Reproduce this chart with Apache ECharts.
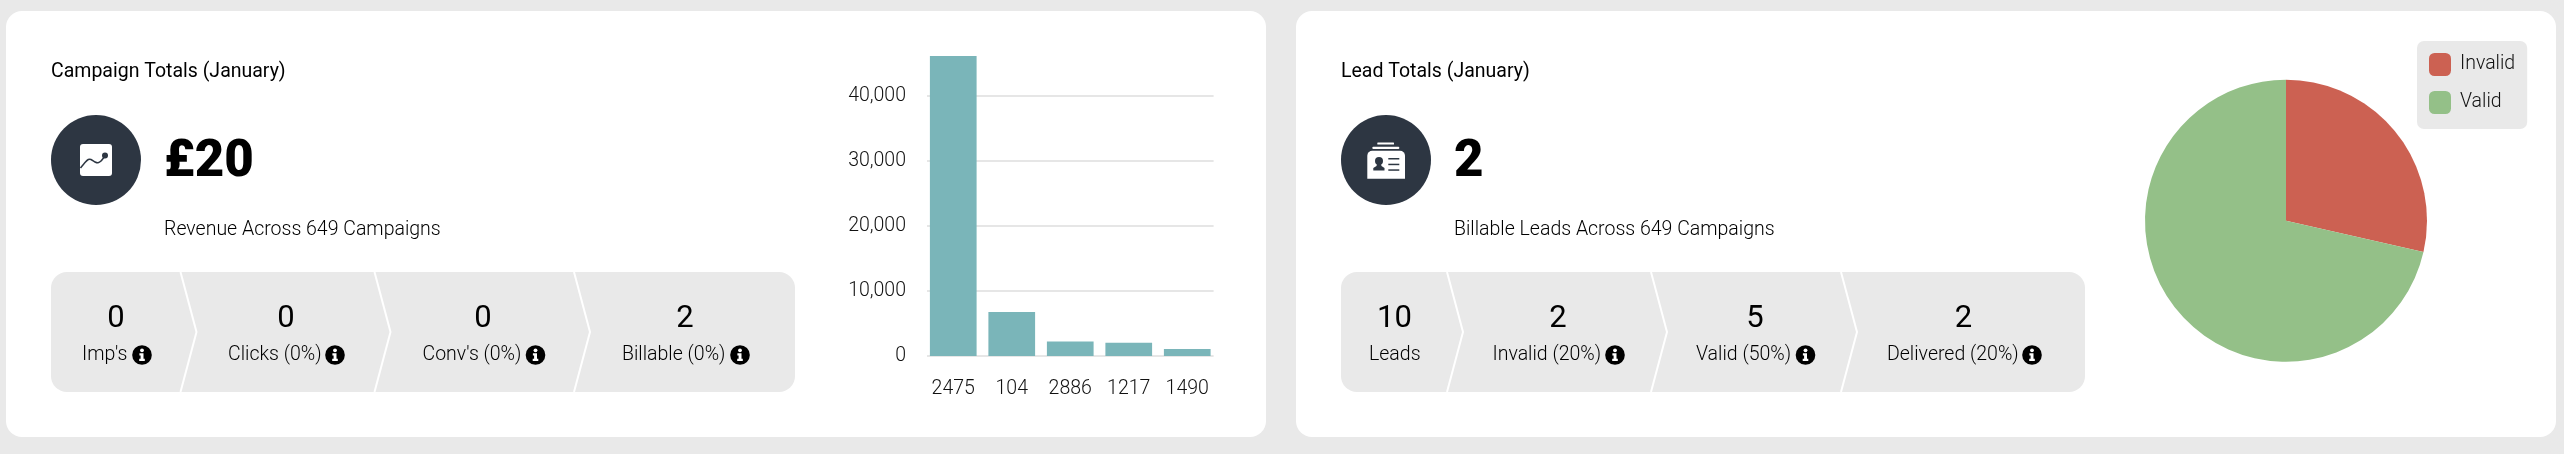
<!DOCTYPE html>
<html>
<head>
<meta charset="utf-8">
<title>Campaign and lead totals</title>
<style>
  html, body { margin: 0; padding: 0; background: #e9e9e9; }
  #dash { width: 2564px; height: 454px; }
</style>
<script src="https://cdn.jsdelivr.net/npm/echarts@6/dist/echarts.min.js"></script>
</head>
<body>
<div id="dash"></div>
<script>
// Data
const campaignIds = ['2475', '104', '2886', '1217', '1490'];
const campaignLeads = [46150, 6770, 2250, 2030, 1080];
const yTickStep = 10000;
const yAxisMax = 50000;

const pieNames = ['Invalid', 'Valid'];
const pieValues = [2, 5];

const campaignTitle = 'Campaign Totals (January)';
const campaignHeadline = '£20';
const campaignSubtitle = 'Revenue Across 649 Campaigns';
const campaignStepValues = ['0', '0', '0', '2'];
const campaignStepLabels = ["Imp's", 'Clicks (0%)', "Conv's (0%)", 'Billable (0%)'];

const leadTitle = 'Lead Totals (January)';
const leadHeadline = '2';
const leadSubtitle = 'Billable Leads Across 649 Campaigns';
const leadStepValues = ['10', '2', '5', '2'];
const leadStepLabels = ['Leads', 'Invalid (20%)', 'Valid (50%)', 'Delivered (20%)'];

// Layout of the two panels
const campaignPanel = {
  cardX: 6, cardW: 1260, textX: 51, headX: 164, stripX: 51, stripW: 744,
  dividers: [180.5, 374.5, 574],
  valueX: [116, 286, 483, 685],
  labelX: [82, 228, 422.5, 622],
  infoX: [142, 335, 535.5, 740]
};
const leadPanel = {
  cardX: 1296, cardW: 1260, textX: 1341, headX: 1454, stripX: 1341, stripW: 744,
  dividers: [1447, 1651, 1841],
  valueX: [1394.5, 1558, 1755, 1963.5],
  labelX: [1369, 1492.5, 1696, 1887],
  infoX: [null, 1615, 1805.5, 2032]
};

// Palette and fonts
const INK = '#111111';
const DARK = '#2d3642';
const PANEL_GREY = '#e9e9e9';
const FACE = 'Roboto, sans-serif';

// All panel furniture stays below the axes, which draw at z 0
const Z_CARD = -9, Z_SHAPE = -8, Z_ICON = -7, Z_ICON_DETAIL = -6, Z_TEXT = -5;

function label(x, y, text, font, align) {
  return { type: 'text', z: Z_TEXT, style: {
    x, y, text, font: font + ' ' + FACE, fill: '#000', align: align || 'left', verticalAlign: 'middle'
  } };
}

function roundRect(x, y, width, height, r, fill, z) {
  return { type: 'rect', z, shape: { x, y, width, height, r }, style: { fill } };
}

// Round info badge with a white serifed "i"
function infoBadge(cx, cy) {
  return {
    type: 'group', children: [
      { type: 'circle', z: Z_ICON, shape: { cx, cy, r: 9.8 }, style: { fill: '#000' } },
      { type: 'circle', z: Z_ICON_DETAIL, shape: { cx, cy: cy - 4.7, r: 1.9 }, style: { fill: '#fff' } },
      { type: 'polygon', z: Z_ICON_DETAIL, shape: { points: [
        [cx - 2.6, cy - 1.7], [cx + 1.5, cy - 1.7], [cx + 1.5, cy + 3.8], [cx + 2.8, cy + 3.8],
        [cx + 2.8, cy + 6], [cx - 2.8, cy + 6], [cx - 2.8, cy + 3.8], [cx - 1.4, cy + 3.8],
        [cx - 1.4, cy + 0.4], [cx - 2.6, cy + 0.4]
      ] }, style: { fill: '#fff' } }
    ]
  };
}

function trendIcon() {
  return [
    roundRect(80, 144, 32, 32, 3, '#fff', Z_ICON),
    { type: 'polyline', z: Z_ICON_DETAIL, shape: {
        points: [[80.5, 168], [85, 162.5], [88.3, 159.5], [91, 159.5], [95, 162], [98, 162.8], [101, 161], [105, 156]],
        smooth: 0.2
      }, style: { stroke: DARK, lineWidth: 1.5, fill: 'none' } },
    { type: 'circle', z: Z_ICON_DETAIL, shape: { cx: 105, cy: 155.5, r: 3 }, style: { fill: DARK } }
  ];
}

function contactIcon() {
  const dark = (x, y, w, h) => ({ type: 'rect', z: Z_ICON_DETAIL, shape: { x, y, width: w, height: h }, style: { fill: DARK } });
  return [
    roundRect(1377.3, 142.5, 16.7, 2, 0.5, '#fff', Z_ICON),
    roundRect(1372.3, 146.7, 27, 2.4, 1, '#fff', Z_ICON),
    { type: 'rect', z: Z_ICON, shape: { x: 1367.3, y: 150.7, width: 37.7, height: 28, r: [5, 5, 0, 0] }, style: { fill: '#fff' } },
    { type: 'circle', z: Z_ICON_DETAIL, shape: { cx: 1379, cy: 161, r: 4 }, style: { fill: DARK } },
    { type: 'polygon', z: Z_ICON_DETAIL, shape: { points: [[1377, 164], [1381, 164], [1381.5, 166], [1384.5, 168], [1384.5, 170.5], [1373.3, 170.5], [1373.3, 168], [1376.5, 166]] }, style: { fill: DARK } },
    dark(1388.3, 158, 11, 1.5),
    dark(1388.3, 163.7, 11, 1.5),
    dark(1388.3, 169.3, 11, 1.5)
  ];
}

function panelGraphics(p, title, headline, subtitle, values, labels, icon) {
  const stripTop = 272, stripBottom = 392, tipY = 332, tip = 16;
  const items = [
    roundRect(p.cardX, 11, p.cardW, 426, 16, '#fff', Z_CARD),
    label(p.textX, 72, title, '400 19.5px'),
    { type: 'circle', z: Z_SHAPE, shape: { cx: p.textX + 45, cy: 160, r: 45 }, style: { fill: DARK } },
    label(p.headX, 163, headline, '900 51px'),
    label(p.headX, 230, subtitle, '300 19.5px'),
    roundRect(p.stripX, stripTop, p.stripW, stripBottom - stripTop, 16, PANEL_GREY, Z_SHAPE)
  ];
  p.dividers.forEach((x) => items.push({
    type: 'polyline', z: Z_ICON,
    shape: { points: [[x, stripTop], [x + tip, tipY], [x, stripBottom]] },
    style: { stroke: '#fff', lineWidth: 2, fill: 'none' }
  }));
  values.forEach((v, i) => {
    items.push(label(p.valueX[i], 319.5, v, '400 31px', 'center'));
    items.push(label(p.labelX[i], 355.5, labels[i], '300 19.5px'));
    if (p.infoX[i] !== null) items.push(infoBadge(p.infoX[i], 355));
  });
  return items.concat(icon());
}

const chart = echarts.init(document.getElementById('dash'), null, { renderer: 'canvas' });

const axisText = { fontFamily: FACE, fontWeight: 300, fontSize: 19.5, color: INK };
const plotTop = 31, plotHeight = 325;

chart.setOption({
  animation: false,
  backgroundColor: PANEL_GREY,
  // Rules and value labels sit on a slightly narrower grid than the bars
  grid: [
    { left: 927, width: 286.6, top: plotTop, height: plotHeight },
    { left: 924, width: 292.5, top: plotTop, height: plotHeight }
  ],
  xAxis: [
    { type: 'category', gridIndex: 0, show: false, data: campaignIds },
    {
      type: 'category', gridIndex: 1, data: campaignIds,
      axisLine: { show: false }, axisTick: { show: false },
      axisLabel: Object.assign({ margin: 23, interval: 0 }, axisText)
    }
  ],
  yAxis: [
    {
      type: 'value', gridIndex: 0, min: 0, max: yAxisMax, interval: yTickStep,
      axisLine: { show: false }, axisTick: { show: false },
      axisLabel: Object.assign({
        margin: 21, showMaxLabel: false, padding: [2, 0, 0, 0],
        formatter: (v) => v.toLocaleString('en-GB')
      }, axisText),
      splitLine: { show: true, showMaxLine: false, lineStyle: { color: '#e6e6e6', width: 2 } }
    },
    {
      type: 'value', gridIndex: 1, min: 0, max: yAxisMax, interval: yTickStep, show: false,
      splitLine: { show: false }
    }
  ],
  legend: {
    data: pieNames,
    orient: 'vertical',
    left: 2417, top: 41,
    padding: [12, 12, 15, 12],
    backgroundColor: PANEL_GREY,
    borderRadius: 7,
    itemWidth: 22, itemHeight: 23, itemGap: 15,
    icon: 'roundRect',
    selectedMode: false,
    textStyle: Object.assign({ padding: [0, 0, 0, 4] }, axisText)
  },
  tooltip: { show: false },
  series: [
    {
      type: 'bar',
      xAxisIndex: 1, yAxisIndex: 1,
      data: campaignLeads,
      barWidth: 46.7,
      itemStyle: { color: '#7ab5b9' },
      silent: true
    },
    {
      type: 'pie',
      center: [2286, 220.7],
      radius: 141,
      startAngle: 90,
      clockwise: true,
      label: { show: false },
      labelLine: { show: false },
      silent: true,
      data: pieNames.map((name, i) => ({
        name, value: pieValues[i],
        itemStyle: { color: ['#cc6152', '#94c088'][i] }
      }))
    }
  ],
  graphic: {
    elements: [
      { type: 'group', silent: true, children:
        panelGraphics(campaignPanel, campaignTitle, campaignHeadline, campaignSubtitle, campaignStepValues, campaignStepLabels, trendIcon)
          .concat(panelGraphics(leadPanel, leadTitle, leadHeadline, leadSubtitle, leadStepValues, leadStepLabels, contactIcon))
      }
    ]
  }
});
</script>
</body>
</html>
